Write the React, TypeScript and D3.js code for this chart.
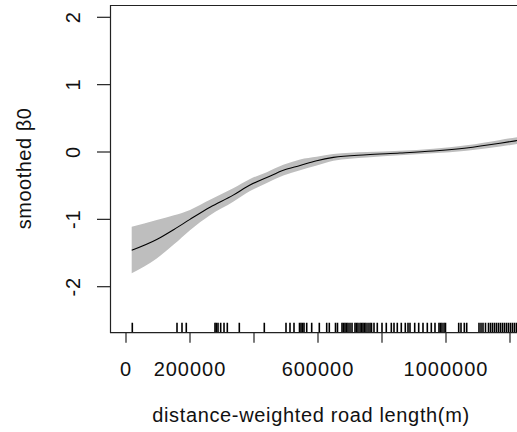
import React from "react";
import * as d3 from "d3";

const xTicks = [0, 200000, 400000, 600000, 800000, 1000000, 1200000];
const xTickLabels = ["0", "200000", "", "600000", "", "1000000", ""];
const yTicks = [-2, -1, 0, 1, 2];
const yTickLabels = ["-2", "-1", "0", "1", "2"];

const fitX = [17800, 96000, 150000, 200000, 262500, 335000, 387500, 440000, 491600, 544000, 596000, 648000, 752000, 856000, 960000, 1064000, 1169000, 1222000];
const fitY = [-1.46, -1.3, -1.15, -1.0, -0.82, -0.64, -0.49, -0.38, -0.27, -0.2, -0.13, -0.08, -0.04, -0.015, 0.015, 0.06, 0.13, 0.17];
const upperY = [-1.11, -1.01, -0.94, -0.86, -0.71, -0.54, -0.4, -0.3, -0.19, -0.11, -0.07, -0.03, 0.0, 0.02, 0.05, 0.1, 0.18, 0.22];
const lowerY = [-1.8, -1.58, -1.37, -1.16, -0.94, -0.74, -0.58, -0.46, -0.35, -0.27, -0.2, -0.13, -0.08, -0.05, -0.02, 0.02, 0.08, 0.12];

const rug = [
  19700, 159400, 175000, 188400, 278100, 282200, 287500, 295900, 306300, 316600, 354100,
  432200, 500000, 512500, 525000, 542200, 546900, 551600, 556300, 564700, 580300, 604100,
  627200, 635300, 654700, 660900, 675000, 679700, 684400, 689100, 693800, 700000, 706300,
  715600, 720300, 725000, 731300, 735900, 740600, 745300, 750000, 756300, 762500, 767200,
  775000, 785300, 800000, 813400, 829100, 837500, 847800, 860300, 872800, 881300, 887500,
  902200, 914700, 928100, 941600, 954100, 965600, 978100, 982800, 987500, 993800, 998400,
  1039700, 1046900, 1057200, 1064700, 1103100, 1109400, 1115600, 1123400, 1132800,
  1139100, 1145300, 1151600, 1157800, 1164100, 1170300, 1176600, 1182800, 1189100,
  1195300, 1201600, 1207800, 1214100, 1220300,
];

const W = 517;
const H = 432;
const left = 110;
const top = 5;
const bottom = 332.7;
const right = 700;
const font = "'Liberation Sans', Arial, sans-serif";

export default function App() {
  const x = d3.scaleLinear().domain([0, 1200000]).range([126, 510]);
  const y = d3.scaleLinear().domain([-2, 2]).range([286.7, 17.3]);

  const idx = fitX.map((_, i) => i);
  const area = d3
    .area<number>()
    .x((i) => x(fitX[i]))
    .y0((i) => y(lowerY[i]))
    .y1((i) => y(upperY[i]))
    .curve(d3.curveMonotoneX);
  const line = d3
    .line<number>()
    .x((i) => x(fitX[i]))
    .y((i) => y(fitY[i]))
    .curve(d3.curveMonotoneX);

  return (
    <div style={{ position: "absolute", left: 0, top: 0 }}>
      <svg width={W} height={H} style={{ display: "block", background: "#fff" }}>
        <defs>
          <clipPath id="plotclip">
            <rect x={left} y={top} width={right - left} height={bottom - top} />
          </clipPath>
        </defs>
        <g clipPath="url(#plotclip)">
          <path d={area(idx) || ""} fill="#bebebe" stroke="none" />
          <path d={line(idx) || ""} fill="none" stroke="#000" strokeWidth={1.1} />
          {rug.map((v, i) => (
            <line
              key={i}
              x1={x(v)}
              x2={x(v)}
              y1={bottom - 10}
              y2={bottom}
              stroke="#000"
              strokeWidth={1.6}
            />
          ))}
        </g>
        {/* box */}
        <path
          d={`M${right},${top + 0.5}H${left + 0.5}V${bottom}H${right}`}
          fill="none"
          stroke="#222"
          strokeWidth={1.2}
        />
        {/* y axis */}
        {yTicks.map((t, i) => (
          <g key={t}>
            <line x1={97} x2={left} y1={y(t)} y2={y(t)} stroke="#222" strokeWidth={1.2} />
            <text
              transform={`translate(80,${y(t)}) rotate(-90)`}
              textAnchor="middle"
              fontFamily={font}
              fontSize={20}
              letterSpacing={0.8}
              fill="#111"
            >
              {yTickLabels[i]}
            </text>
          </g>
        ))}
        {/* x axis */}
        {xTicks.map((t, i) => (
          <g key={t}>
            <line x1={x(t)} x2={x(t)} y1={bottom} y2={bottom + 10} stroke="#222" strokeWidth={1.2} />
            {xTickLabels[i] && (
              <text
                x={x(t)}
                y={376}
                textAnchor="middle"
                fontFamily={font}
                fontSize={20}
                letterSpacing={1}
                fill="#111"
              >
                {xTickLabels[i]}
              </text>
            )}
          </g>
        ))}
        <text
          x={311}
          y={422}
          textAnchor="middle"
          fontFamily={font}
          fontSize={20}
          letterSpacing={0.65}
          fill="#111"
        >
          distance-weighted road length(m)
        </text>
        <text
          transform={`translate(31,168.5) rotate(-90)`}
          textAnchor="middle"
          fontFamily={font}
          fontSize={20}
          letterSpacing={0.5}
          fill="#111"
        >
          smoothed β0
        </text>
      </svg>
    </div>
  );
}
